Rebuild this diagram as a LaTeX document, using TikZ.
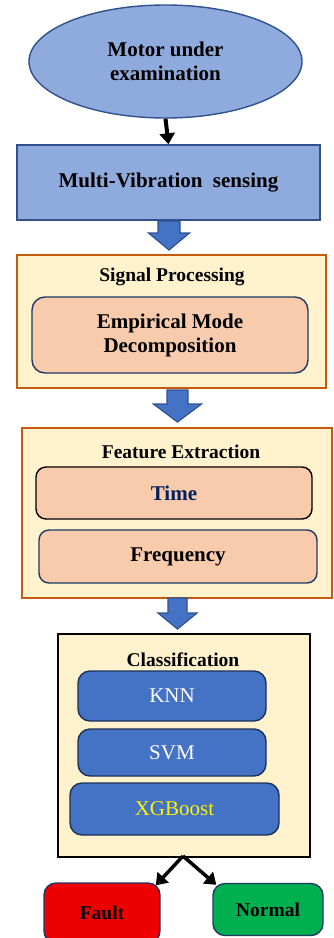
\documentclass[tikz,border=0pt]{standalone}
\usepackage{fontspec}
\setmainfont{Liberation Serif}
\usetikzlibrary{shapes.geometric,arrows.meta,calc}
\definecolor{lblue}{HTML}{8FAADC}
\definecolor{dblue}{HTML}{2F528F}
\definecolor{mblue}{HTML}{4472C4}
\definecolor{navy}{HTML}{1F3864}
\definecolor{cream}{HTML}{FFF2CC}
\definecolor{peach}{HTML}{F8CBAD}
\definecolor{orng}{HTML}{C55A11}
\definecolor{tblue}{HTML}{002060}
\definecolor{fred}{HTML}{EE0000}
\definecolor{fgreen}{HTML}{00B050}
\newcommand{\bigtxt}{\fontsize{21}{24}\selectfont\bfseries}
\newcommand{\ttltxt}{\fontsize{19.5}{22}\selectfont\bfseries}
\newcommand{\regtxt}{\fontsize{21}{24}\selectfont}
\newcommand{\blockarrow}[6]{%
  \fill[mblue,draw=dblue,line width=1.2pt,line join=miter]
    (#1-#5,#2) -- (#1+#5,#2) -- (#1+#5,#3) -- (#1+#6,#3) -- (#1,#4)
    -- (#1-#6,#3) -- (#1-#5,#3) -- cycle;}
\begin{document}
\begin{tikzpicture}[x=1pt,y=-1pt,
  box/.style={draw,inner sep=0pt,line width=1.4pt,align=center},
  container/.style={box,fill=cream,draw=orng,line width=1.6pt},
  inner/.style={box,fill=peach,draw=navy,rounded corners=13pt},
  algo/.style={box,fill=mblue,draw=navy!90!black,rounded corners=12pt,font=\regtxt},
  leaf/.style={box,draw=navy,rounded corners=12pt,font=\ttltxt},
  blk/.style={line width=4pt,-{Triangle[length=11pt,width=15pt]}}]
\useasboundingbox (0,0) rectangle (333,938);
% top
\node[ellipse,box,fill=lblue,draw=dblue,minimum width=273pt,minimum height=113pt,font=\bigtxt] (motor) at (165.5,61.5) {Motor under\\examination};
\node[box,fill=lblue,draw=dblue,minimum width=303pt,minimum height=75pt,font=\bigtxt] (sense) at (168.5,182.5) {Multi-Vibration\ \ sensing};
\draw[blk] (motor.south) -- (sense.north);
\blockarrow{169}{221}{233}{250}{11}{20.5}
% signal processing
\node[container,minimum width=309pt,minimum height=133pt] (sp) at (171.5,321.5) {};
\node[font=\ttltxt,inner sep=0pt] (sptitle) at (172,277) {Signal Processing};
\node[inner,minimum width=276pt,minimum height=76pt,font=\bigtxt] (emd) at (170,335) {Empirical Mode\\Decomposition};
\blockarrow{177.5}{390}{404}{422}{10.5}{24}
% feature extraction
\node[container,minimum width=310pt,minimum height=170pt] (fe) at (177,513) {};
\node[font=\ttltxt,inner sep=0pt] (fetitle) at (181,452) {Feature Extraction};
\node[inner,draw=black,minimum width=276pt,minimum height=52pt,font=\bigtxt,text=tblue,rounded corners=10pt] (time) at (174,493) {Time};
\node[inner,minimum width=278pt,minimum height=53pt,font=\bigtxt,rounded corners=10pt] (freq) at (178,556.5) {Frequency};
\blockarrow{177.5}{598}{613}{629}{9.5}{19.5}
% classification
\node[box,fill=cream,draw=black,line width=1.6pt,minimum width=252pt,minimum height=223pt] (cls) at (184,745.5) {};
\node[font=\ttltxt,inner sep=0pt] (clstitle) at (183,660) {Classification};
\node[algo,minimum width=188pt,minimum height=50pt,text=white] (knn) at (172,696) {KNN};
\node[algo,minimum width=188pt,minimum height=47pt,text=white] (svm) at (172,752.5) {SVM};
\node[algo,minimum width=209pt,minimum height=52pt,text=yellow] (xgb) at (174.5,809) {XGBoost};
% outputs
\node[leaf,fill=fred,minimum width=116pt,minimum height=60pt] (fault) at (102,913) {Fault};
\node[leaf,fill=fgreen,minimum width=110pt,minimum height=52pt] (normal) at (268,909.5) {Normal};
\coordinate (split) at (183,856);
\draw[blk,line width=3.5pt] (split) -- ($(fault.north east)+(-5,3)$);
\draw[blk,line width=3.5pt] (split) -- ($(normal.north west)+(4,2)$);
\end{tikzpicture}
\end{document}
